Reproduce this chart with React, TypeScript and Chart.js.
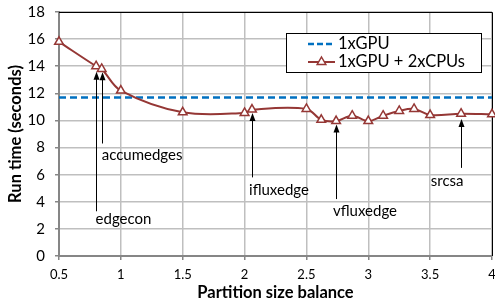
import React, { useEffect, useRef } from "react";
import { Chart, registerables } from "chart.js";
Chart.register(...registerables);

const balance = [0.5, 0.8, 0.845, 1.0, 1.5, 2.0, 2.06, 2.5, 2.62, 2.74, 2.87, 3.0, 3.12, 3.25, 3.37, 3.5, 3.75, 4.0];
const runTimeGpuCpu = [15.8, 14.0, 13.8, 12.2, 10.6, 10.55, 10.8, 10.85, 10.05, 9.95, 10.35, 9.95, 10.35, 10.7, 10.85, 10.4, 10.5, 10.45];
const gpuOnlyBalance = [0.5, 4.0];
const gpuOnlyTime = [11.7, 11.7];
const xTickValues = [0.5, 1, 1.5, 2, 2.5, 3, 3.5, 4];
const seriesNames = ["1xGPU", "1xGPU + 2xCPUs"];
const annotLabels = ["edgecon", "accumedges", "ifluxedge", "vfluxedge", "srcsa"];
const annotX = [0.8, 0.845, 2.06, 2.74, 3.75];
const annotTailY = [3.3, 8.3, 5.8, 4.2, 6.5];
const annotTipY = [13.6, 13.55, 10.55, 9.7, 10.1];
const annotLabelX = [0.796, 0.845, 2.036, 2.715, 3.505];
const annotLabelY = [2.7, 7.45, 4.87, 3.34, 5.55];

const RED = "#953735";
const BLUE = "#0070C0";
const FONT = "Lato, 'Open Sans', sans-serif";

const extrasPlugin = {
  id: "extras",
  beforeDatasetsDraw(chart: any) {
    const { ctx, chartArea: ca } = chart;
    ctx.save();
    ctx.strokeStyle = "#000";
    ctx.lineWidth = 1;
    ctx.beginPath();
    ctx.moveTo(ca.left, ca.top + 0.5);
    ctx.lineTo(ca.right + 0.5, ca.top + 0.5);
    ctx.lineTo(ca.right + 0.5, ca.bottom);
    ctx.stroke();
    ctx.restore();
  },
  afterDatasetsDraw(chart: any) {
    const { ctx, chartArea: ca } = chart;
    const xs = chart.scales.x;
    const ys = chart.scales.y;
    ctx.save();
    // annotations
    for (let i = 0; i < annotLabels.length; i++) {
      const px = Math.round(xs.getPixelForValue(annotX[i])) + 0.5;
      const yTail = ys.getPixelForValue(annotTailY[i]);
      const yTip = ys.getPixelForValue(annotTipY[i]);
      ctx.strokeStyle = "#000";
      ctx.fillStyle = "#000";
      ctx.lineWidth = 1;
      ctx.beginPath();
      ctx.moveTo(px, yTail);
      ctx.lineTo(px, yTip + 7);
      ctx.stroke();
      ctx.beginPath();
      ctx.moveTo(px, yTip);
      ctx.lineTo(px - 3, yTip + 8);
      ctx.lineTo(px + 3, yTip + 8);
      ctx.closePath();
      ctx.fill();
      ctx.font = `15px ${FONT}`;
      ctx.textAlign = "left";
      ctx.textBaseline = "middle";
      ctx.fillStyle = "#000";
      ctx.fillText(annotLabels[i], xs.getPixelForValue(annotLabelX[i]), ys.getPixelForValue(annotLabelY[i]));
    }
    // legend
    const lx = ca.left + 227;
    const ly = ca.top + 21;
    const lw = 195;
    const lh = 39;
    ctx.fillStyle = "#fff";
    ctx.fillRect(lx, ly, lw, lh);
    ctx.strokeStyle = "#000";
    ctx.lineWidth = 1;
    ctx.strokeRect(lx + 0.5, ly + 0.5, lw, lh);
    const sx0 = lx + 22;
    const sx1 = lx + 49;
    const ty1 = ly + 11;
    const ty2 = ly + 29;
    ctx.strokeStyle = BLUE;
    ctx.lineWidth = 2.5;
    ctx.setLineDash([6, 3]);
    ctx.beginPath();
    ctx.moveTo(sx0, ty1);
    ctx.lineTo(sx1, ty1);
    ctx.stroke();
    ctx.setLineDash([]);
    ctx.strokeStyle = RED;
    ctx.lineWidth = 2;
    ctx.beginPath();
    ctx.moveTo(sx0, ty2);
    ctx.lineTo(sx1, ty2);
    ctx.stroke();
    const cx = (sx0 + sx1) / 2;
    const r = 5;
    ctx.beginPath();
    ctx.moveTo(cx, ty2 - r);
    ctx.lineTo(cx + r * 0.866, ty2 + r * 0.5);
    ctx.lineTo(cx - r * 0.866, ty2 + r * 0.5);
    ctx.closePath();
    ctx.fillStyle = "#fff";
    ctx.fill();
    ctx.lineWidth = 1.5;
    ctx.stroke();
    ctx.fillStyle = "#000";
    ctx.font = `16.5px ${FONT}`;
    ctx.textAlign = "left";
    ctx.textBaseline = "middle";
    ctx.fillText(seriesNames[0], lx + 52, ty1);
    ctx.fillText(seriesNames[1], lx + 52, ty2);
    ctx.restore();
  },
};

export default function App() {
  const ref = useRef<HTMLCanvasElement>(null);
  useEffect(() => {
    if (!ref.current) return;
    const chart = new Chart(ref.current, {
      type: "line",
      data: {
        datasets: [
          {
            label: seriesNames[0],
            data: gpuOnlyBalance.map((x, i) => ({ x, y: gpuOnlyTime[i] })),
            borderColor: BLUE,
            borderWidth: 2.5,
            borderDash: [7, 4],
            pointRadius: 0,
            tension: 0,
            order: 2,
          },
          {
            label: seriesNames[1],
            data: balance.map((x, i) => ({ x, y: runTimeGpuCpu[i] })),
            borderColor: RED,
            borderWidth: 2,
            pointStyle: "triangle",
            pointRadius: 5,
            pointBorderWidth: 1.5,
            pointBackgroundColor: "#fff",
            pointBorderColor: RED,
            tension: 0.35,
            cubicInterpolationMode: "default",
            clip: 10,
            order: 1,
          },
        ],
      },
      options: {
        animation: false,
        responsive: false,
        layout: { autoPadding: false, padding: { top: 12, right: 3, left: 0, bottom: 0 } },
        plugins: { legend: { display: false }, tooltip: { enabled: false } },
        scales: {
          x: {
            type: "linear",
            min: 0.5,
            max: 4,
            afterBuildTicks: (s: any) => {
              s.ticks = xTickValues.map((v) => ({ value: v }));
            },
            afterFit: (s: any) => {
              s.height = 49;
              s.paddingLeft = 0;
              s.paddingRight = 0;
            },
            ticks: {
              font: { family: FONT, size: 13 },
              color: "#000",
              padding: 7,
              maxRotation: 0,
              callback: (v: any) => String(v),
            },
            grid: { color: "#bfbfbf", lineWidth: 1.5, tickLength: 4, tickColor: "#868686" },
            border: { color: "#868686", width: 2 },
            title: {
              display: true,
              text: "Partition size balance",
              font: { family: FONT, size: 16.5, weight: "bold" },
              color: "#000",
              padding: { top: 0, bottom: 2 },
            },
          },
          y: {
            min: 0,
            max: 18,
            afterFit: (s: any) => {
              s.width = 59;
              s.paddingTop = 0;
              s.paddingBottom = 0;
            },
            ticks: {
              stepSize: 2,
              font: { family: FONT, size: 15 },
              color: "#000",
              padding: 10,
            },
            grid: { color: "#bfbfbf", lineWidth: 1.5, tickLength: 4, tickColor: "#868686" },
            border: { color: "#868686", width: 2 },
            title: {
              display: true,
              text: "Run time (seconds)",
              font: { family: FONT, size: 16.5, weight: "bold" },
              color: "#000",
              padding: { top: 6, bottom: 0 },
            },
          },
        },
      },
      plugins: [extrasPlugin],
    } as any);
    return () => chart.destroy();
  }, []);
  return (
    <div style={{ position: "fixed", left: 0, top: 0, width: 495, height: 305, background: "#fff" }}>
      <canvas ref={ref} width={495} height={305} style={{ width: 495, height: 305, display: "block" }} />
    </div>
  );
}
